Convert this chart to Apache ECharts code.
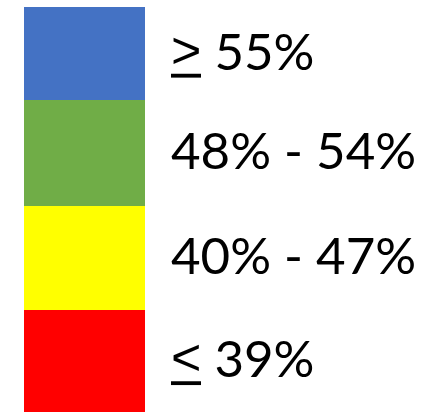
<!DOCTYPE html>
<html>
<head>
<meta charset="utf-8">
<script src="https://cdn.jsdelivr.net/npm/echarts@6/dist/echarts.min.js"></script>
<style>
  html, body { margin: 0; padding: 0; background: #fff; }
  #chart { width: 446px; height: 413px; }
</style>
</head>
<body>
<div id="chart"></div>
<script>
// Bands from bottom to top, heights
const bandLabels = ['{op|<} 39%', '40% - 47%', '48% - 54%', '{op|>} 55%'];
const bandSizes = [102, 104, 106, 93];
const bandColors = ['#ff0000', '#ffff00', '#70ad47', '#4472c4'];

document.addEventListener('DOMContentLoaded', () => {
  const chart = echarts.init(document.getElementById('chart'));

  // underline for the comparison sign, drawn as the segment's background
  const line = document.createElement('canvas');
  line.width = 10;
  line.height = 54;
  const ctx = line.getContext('2d');
  ctx.fillStyle = '#000';
  ctx.fillRect(0, 48, 10, 4);

  const series = bandSizes.map((v, i) => ({
    name: bandLabels[i],
    type: 'bar',
    stack: 'scale',
    barWidth: '100%',
    itemStyle: { color: bandColors[i] },
    label: {
      show: true,
      position: 'right',
      distance: 26,
      formatter: bandLabels[i],
      color: '#000',
      fontFamily: 'Lato',
      fontSize: 51,
      lineHeight: 54,
      rich: {
        op: {
          fontFamily: 'Liberation Sans',
          fontSize: 52,
          lineHeight: 54,
          color: '#000',
          backgroundColor: { image: line }
        }
      }
    },
    data: [v]
  }));

  const option = {
    animation: false,
    backgroundColor: '#fff',
    grid: { left: 24, top: 7, width: 121, bottom: 1 },
    xAxis: { type: 'category', data: ['scale'], show: false },
    yAxis: {
      type: 'value',
      min: 0,
      max: bandSizes.reduce((a, b) => a + b, 0),
      show: false
    },
    series
  };

  chart.setOption(option);
});
</script>
</body>
</html>
